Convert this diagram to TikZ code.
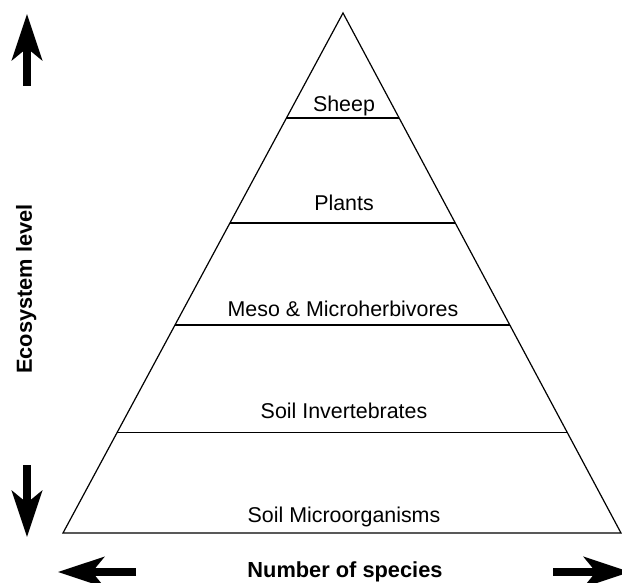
\documentclass[tikz,border=0pt]{standalone}
\usepackage{fontspec}
\setmainfont{Liberation Sans}
\usetikzlibrary{arrows.meta, calc}

\begin{document}
\begin{tikzpicture}[x=0.5pt, y=-0.5pt,
    layer/.style={font=\fontsize{10.7pt}{12pt}\selectfont, anchor=base, inner sep=0pt},
    axislabel/.style={font=\fontsize{10.9pt}{12pt}\selectfont\bfseries, anchor=base, inner sep=0pt},
    bigarrow/.style={line width=3.8pt, -{Stealth[length=23pt, width=15pt, inset=6pt]}}]
  \useasboundingbox (0,0) rectangle (622,583);
  % Pyramid
  \coordinate (apex) at (343,13);
  \coordinate (bl) at (63,533);
  \coordinate (br) at (621,533);
  \draw[line width=0.6pt] (apex) -- (bl) -- (br) -- cycle;
  \foreach \t in {0.202, 0.404, 0.6, 0.806}
    \draw[line width=0.6pt] ($(apex)!\t!(bl)$) -- ($(apex)!\t!(br)$);
  % Levels
  \node[layer] (sheep) at (344,112) {Sheep};
  \node[layer] (plants) at (344,211) {Plants};
  \node[layer] (meso) at (343,316) {Meso \& Microherbivores};
  \node[layer] (invert) at (344,418) {Soil Invertebrates};
  \node[layer] (micro) at (344,522) {Soil Microorganisms};
  % Axes
  \node[axislabel, rotate=90] (eco) at (32,289) {Ecosystem level};
  \node[axislabel] (species) at (345,577) {Number of species};
  \coordinate (up0) at (27,86);   \coordinate (up1) at (27,14);
  \coordinate (down0) at (27,465); \coordinate (down1) at (27,537);
  \coordinate (left0) at (136,572); \coordinate (left1) at (58,572);
  \coordinate (right0) at (553,572); \coordinate (right1) at (630,572);
  \draw[bigarrow] (up0) -- (up1);
  \draw[bigarrow] (down0) -- (down1);
  \draw[bigarrow] (left0) -- (left1);
  \draw[bigarrow] (right0) -- (right1);
\end{tikzpicture}
\end{document}
